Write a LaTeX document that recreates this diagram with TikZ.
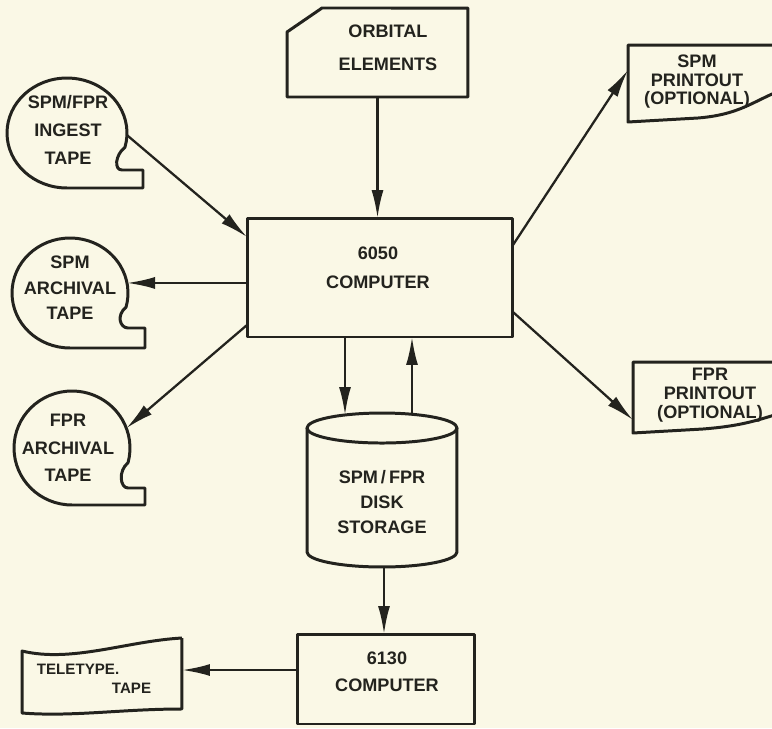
\documentclass[tikz,border=0pt]{standalone}
\usepackage{fontspec}
\setmainfont{Liberation Sans}
\usepackage{tikz}
\usetikzlibrary{positioning,shapes.geometric,arrows.meta,calc}
\definecolor{paper}{RGB}{250,248,230}
\definecolor{ink}{RGB}{35,35,30}

\begin{document}
\begin{tikzpicture}[x=0.02cm, y=-0.02cm,
    line/.style={draw=ink, line width=1.7pt, line join=round},
    arr/.style={draw=ink, line width=1.3pt, -{Latex[length=0.56cm,width=0.24cm]}},
    box/.style={rectangle, inner sep=0pt, outer sep=0pt},
    reel/.style={ellipse, inner sep=0pt, outer sep=0pt},
    txt/.style={font=\bfseries\fontsize{10.3}{#1}\selectfont, text=ink, align=center, inner sep=0pt}]

    \fill[paper] (0,0) rectangle (772,728);
    \clip (0,0) rectangle (772,728);

    % computers
    \node[box, line, minimum width=5.32cm, minimum height=2.38cm] (c6050) at (380,277.5) {};
    \node[txt=16.5] (c6050t) at (378,268) {6050\\COMPUTER};
    \node[box, line, minimum width=3.56cm, minimum height=1.8cm] (c6130) at (386,679) {};
    \node[txt=15.4] (c6130t) at (387,671.5) {6130\\COMPUTER};

    % punched card
    \node[box, minimum width=3.62cm, minimum height=1.78cm] (orbit) at (377.5,52.5) {};
    \draw[line] (orbit.south west) -- ++(0,-65) -- ++(35,-24) -- (orbit.north east) -- (orbit.south east) -- cycle;
    \node[txt=18.8] (orbitt) at (388,48) {ORBITAL\\ELEMENTS};

    % tapes
    \node[reel, minimum width=2.4cm, minimum height=2.2cm] (ingest) at (67,133) {};
    \draw[line] (ingest.south) arc[start angle=270, end angle=-15, x radius=1.2cm, y radius=1.1cm]
        .. controls +(-10,8) and +(-8,0) .. ($(ingest.south)+(55,-18)$) -- ++(21,0) -- ++(0,18) -- cycle;
    \node[txt=16] (ingestt) at (68,130) {SPM/FPR\\INGEST\\TAPE};

    \node[reel, minimum width=2.32cm, minimum height=2.2cm] (spmarc) at (70,293) {};
    \draw[line] (spmarc.south) arc[start angle=270, end angle=-15, x radius=1.16cm, y radius=1.1cm]
        .. controls +(-10,8) and +(-8,0) .. ($(spmarc.south)+(58,-20)$) -- ++(17,0) -- ++(0,20) -- cycle;
    \node[txt=14.5] (spmarct) at (70,288) {SPM\\ARCHIVAL\\TAPE};

    \node[reel, minimum width=2.32cm, minimum height=2.28cm] (fprarc) at (72,448) {};
    \draw[line] (fprarc.south) arc[start angle=270, end angle=-15, x radius=1.16cm, y radius=1.14cm]
        .. controls +(-10,8) and +(-8,0) .. ($(fprarc.south)+(56,-17)$) -- ++(17,0) -- ++(0,17) -- cycle;
    \node[txt=15.6] (fprarct) at (68,448) {FPR\\ARCHIVAL\\TAPE};

    % disk
    \node[box, minimum width=3cm, minimum height=2.48cm] (disk) at (382,490) {};
    \draw[line] (disk.north) ellipse[x radius=1.5cm, y radius=0.3cm];
    \draw[line] (disk.north west) -- (disk.south west)
        arc[start angle=180, end angle=360, x radius=1.5cm, y radius=0.3cm] -- (disk.north east);
    \node[txt=14] (diskt) at (382,502) {SPM\,/\,FPR\\DISK\\STORAGE};
    \coordinate (din) at ($(disk.north)+(-37,-13)$);
    \coordinate (dout) at ($(disk.north)+(30,-14)$);
    \coordinate (dbot) at ($(disk.south)+(2,15)$);

    % printouts
    \node[box, minimum width=3.4cm, minimum height=1.54cm] (spmprt) at (713,83.5) {};
    \draw[line] (spmprt.south west) -- (spmprt.north west) -- (spmprt.north east) -- ++(0,40)
        .. controls +(-40,10) and +(50,-4) .. ($(spmprt.south west)+(70,-4)$) -- cycle;
    \node[txt=10.5] (spmprtt) at (697,82) {SPM\\PRINTOUT\\(OPTIONAL)};

    \node[box, minimum width=3.4cm, minimum height=1.42cm] (fprprt) at (718,397.5) {};
    \draw[line] (fprprt.south west) -- (fprprt.north west) -- (fprprt.north east) -- ++(0,45)
        .. controls +(-40,10) and +(50,-4) .. ($(fprprt.south west)+(70,-4)$) -- cycle;
    \node[txt=11] (fprprtt) at (710,395) {FPR\\PRINTOUT\\(OPTIONAL)};

    % teletype tape
    \node[box, minimum width=3.2cm, minimum height=1.5cm] (tty) at (102,675.5) {};
    \draw[line] (tty.north east) -- ($(tty.south east)+(0,-4)$) .. controls +(-60,0) and +(50,4) .. (tty.south west)
        -- ($(tty.north west)+(0,13)$) .. controls +(50,12) and +(-55,3) .. (tty.north east);
    \node[txt=10, font=\bfseries\fontsize{8.6}{10.5}\selectfont, align=left] (ttyt) at (94,679) {TELETYPE.\\\hspace*{1.5cm}TAPE};
    \coordinate (ttyin) at ($(c6130.north west)+(0,36)$);

    % flow
    \draw[arr] (orbit.south) -- (orbit.south |- c6050.north);
    \draw[arr] (ingest.-2) -- ($(c6050.north west)+(0,19)$);
    \draw[arr] (c6050.west |- spmarc.10) -- (spmarc.10);
    \draw[arr] ($(c6050.south west)+(0,-12)$) -- (fprarc.20);
    \draw[arr] ($(c6050.north east)+(0,27)$) -- ($(spmprt.north west)+(0,25)$);
    \draw[arr] ($(c6050.south east)+(0,-25)$) -- ($(fprprt.south west)+(0,-13)$);
    \draw[arr] (c6050.south -| din) -- (din);
    \draw[arr] (dout) -- (dout |- c6050.south);
    \draw[arr] (dbot) -- (dbot |- c6130.north);
    \draw[arr] (ttyin) -- (tty.east |- ttyin);
\end{tikzpicture}
\end{document}
